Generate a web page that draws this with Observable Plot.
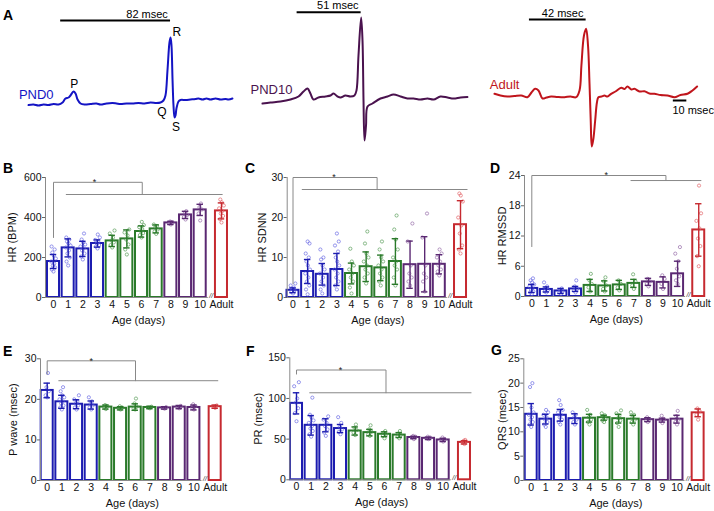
<!DOCTYPE html>
<html>
<head>
<meta charset="utf-8">
<script src="https://cdn.jsdelivr.net/npm/d3@7"></script>
<script src="https://cdn.jsdelivr.net/npm/@observablehq/plot@0.6"></script>
<style>
  html,body{margin:0;padding:0;background:#fff;}
  #fig{position:relative;width:714px;height:511px;overflow:hidden;background:#fff;font-family:"Liberation Sans",Arial,Helvetica,sans-serif;}
  .panel{position:absolute;}
  .panel svg{overflow:visible;}
  .tag{position:absolute;font-weight:bold;font-size:14px;line-height:14px;color:#000;font-family:"Liberation Sans",Arial,sans-serif;}
</style>
</head>
<body>
<div id="fig"></div>
<script>
// ================= DATA =================
const ageLabels = ["0","1","2","3","4","5","6","7","8","9","10","Adult"];
const ageGroup  = ["early","early","early","early","mid","mid","mid","mid","late","late","late","adult"];

// ECG traces (time in msec, amplitude in arbitrary units)
const pnd0Time  = [0,3.7,7.5,11.2,14.9,18.7,22.4,25.4,27.6,29.9,31.3,33.6,35.1,36.6,38.8,41.8,46.3,50.7,53.7,58.2,62.7,65.7,68.7,73.1,77.6,82.1,86.6,91,95.5,98.5,100.7,102.2,103.7,105.2,106,106.7,107.5,108.2,109,109.7,110.4,111.9,113.4,117.2,120.9,124.6,126.9,129.9,132.8,135.8,139.6,143.3,147,149.3,152.2];
const pnd0Volt  = [-0.5,0,-1,0,-0.5,0.5,0,2,6,7,9,13,11,5,1,0,0.5,1,0,1,1.5,1,0.5,1,1,1.5,1,2,1.5,2,4,9,34,62,67,59,24,-1,-13,-11,-4,3,4.5,4.5,5,5.5,6,5,6,5,6,5,5.5,5,6];
const pnd10Time = [0,6.4,14.3,22.3,28.7,32.7,35.9,38.2,40.6,44.6,50.2,54.2,56.6,59.8,62.2,66.1,70.1,73.3,74.9,76.5,78.6,79.7,80.5,81.3,82.5,83.7,87.6,94,99.6,104.4,110,115.5,120.3,125.9,131.5,136.3,141.8,147.4,152.2,157.8,163.3];
const pnd10Volt = [0,1,2,4,7,12,15,10,4,6,7,8,10,7,6,8,7,8,13,48,86,63,3,-37,-22,-3,0,5,7,9,7,5,5,4,5,4,7,6,5,6,6.5];
const adultTime = [0,4.4,9.6,14.8,19.8,24.4,27.4,30.1,32.6,35.6,38.5,42,46.7,51.9,56.3,60.5,63,64.4,66.3,67.9,69.3,70.4,71.3,72.1,73.3,74.6,75.9,77,79.3,81.5,83.7,86.4,89.6,93.9,96.3,98.5,101.5,103.7,107.4,111.1,114.8,118.5,123,128.1,133.3,137.8,143,146.7,150.1];
const adultVolt = [2.7,1,0,0.5,1,-0.7,4,7.7,6,-2,-1,0,-0.5,-0.7,0,-0.7,6,31,61,67.7,51,13,-24,-50,-42,-24,-6,-0.7,0,1,0,2.7,5,8.7,7.5,10,7,7.7,5,5.3,3,2.7,1.5,1,-0.7,1.5,2.7,6,10];
// P-R interval scale bars (msec) with their start times, plus the 10 msec bar
const prBars = [{label:"82 msec", start:24, len:82},{label:"51 msec", start:27.6, len:51},{label:"42 msec", start:25.9, len:42}];
const timeBar = {label:"10 msec", start:132.5, len:10};

// B: HR (BPM)
const hrMean = [180,248,243,270,283,293,330,343,373,413,438,433];
const hrSD   = [35,45,38,18,28,45,28,20,8,18,28,40];
const hrPts  = [
  [130,140,150,160,170,180,195,210,225,240,255],
  [160,180,200,220,235,250,260,270,280,290,300],
  [190,205,220,235,245,255,265,275,290,320],
  [245,255,262,270,278,288,300,315],
  [250,262,275,285,300,320,335],
  [215,240,265,290,310,325,340],
  [300,312,322,332,342,352,362,378],
  [318,330,340,350,358,365],
  [365,370,376,380],
  [390,402,412,422,432],
  [385,420,440,452,470],
  [375,392,408,420,432,446,460,476,490]
];
// C: HR SDNN
const sdnnMean = [1.8,6.5,5.8,7.0,6.0,7.7,7.4,9.0,8.2,8.3,8.3,18.2];
const sdnnSD   = [0.6,3.0,2.7,4.0,2.6,3.7,3.2,5.7,5.9,6.9,2.4,6.0];
const sdnnPts  = [
  [1.0,1.4,1.8,2.1,2.5,3.0,3.5],
  [0.8,2,3,4,5,6,7,8,9,10,11,13.5,14],
  [1,2,3,4,5,6,7,8,9.5,10,12],
  [2,3,4,5,6,7,8,9,10,11.5,13,14,16],
  [1,2.5,4,5,6,7,8,9,12.2],
  [3.5,5,6,7,8,9,10,11,13.5,16.5],
  [3,4,5,6,7,8,9,10,12,14],
  [3,5,7,8,9,10,12,14.5,17,20.5],
  [3,4,5,6,8,14,18.5],
  [1.5,4,5,6,8,15,21],
  [5.5,6.5,7,8,9,10,11,12],
  [11,12,13,16,18,20,24,25.5,26]
];
// D: HR RMSSD
const rmssdMean = [1.6,1.4,1.1,1.5,2.2,2.1,2.3,2.6,2.9,2.8,4.5,13.2];
const rmssdSD   = [0.8,0.5,0.5,0.5,1.2,1.0,0.9,0.8,0.7,1.1,2.5,5.2];
const rmssdPts  = [
  [0.5,0.8,1.0,1.3,1.6,2.0,2.4,2.8,3.2,3.6],
  [0.8,1.0,1.3,1.6,2.0,2.8],
  [0.5,0.8,1.0,1.3,1.6],
  [0.8,1.2,1.5,2.0,3.2],
  [1.0,1.8,2.5,3.2,4.5],
  [1.0,1.5,2.2,3.0,3.8],
  [1.2,1.8,2.5,3.2],
  [1.5,2.2,3.0,4.4],
  [2.0,2.5,3.0,3.5],
  [1.5,2.5,3.5,4.2],
  [2.5,3.2,4.0,5.5,7.0,8.5,9.8],
  [6.0,8.0,10.0,11.5,13.5,15.0,16.5,22.0]
];
// E: P wave (msec)
const pMean = [22.2,19.4,18.8,18.6,18.1,17.8,18.1,18.0,17.9,18.1,18.0,18.2];
const pSD   = [1.8,1.6,1.1,1.0,0.5,0.4,0.8,0.3,0.3,0.4,0.6,0.4];
const pPts  = [
  [20.5,21,22,23,26.5],
  [17.5,18,18.5,19,19.5,20,20.5,21,22,23],
  [17.5,18,18.5,19,19.5,20,21],
  [17.5,18,18.5,19,19.5,20.5],
  [17.6,18,18.3,18.6],
  [17.5,17.8,18.0,18.3],
  [17.5,17.8,18.2,19,20.2],
  [17.8,18.0,18.2],
  [17.7,17.9,18.1],
  [17.8,18.1,18.4],
  [17.5,17.9,18.3,18.8],
  [17.9,18.2,18.5]
];
// F: PR (msec)
const prMean = [94,67,67,63,60,58,56,55,52,51,49,46];
const prSD   = [13,12,8,5,5,4,3,3,1.5,1.5,2,2];
const prPts  = [
  [72,82,88,95,100,115,120],
  [53,56,60,63,66,70,73,77,80,101],
  [54,58,62,66,70,74,78],
  [56,59,62,65,70,77],
  [55,58,61,64,68],
  [54,56,59,62,67],
  [51,54,56,58,60],
  [51,53,55,57,60],
  [50,52,53,54],
  [50,51,52,53],
  [47,49,50,52],
  [44,46,47,48,49]
];
// G: QRS (msec)
const qrsMean = [13.6,12.6,13.4,12.7,12.8,12.9,12.7,12.6,12.5,12.4,12.6,13.9];
const qrsSD   = [2.2,1.0,1.2,1.0,0.8,0.5,0.9,0.8,0.4,0.4,0.8,0.8];
const qrsPts  = [
  [11,11.5,12,12.5,13,13.5,14,15,19.2,20],
  [11,11.5,12,12.5,13,13.5,14,14.5],
  [11.5,12,12.5,13,13.5,14,14.5,15.5,16.5],
  [11.5,12,12.5,13,13.5,14],
  [11.5,12,12.5,13,13.5,14.5],
  [12,12.3,12.6,13,13.4,13.8],
  [11,11.8,12.3,12.8,13.3,13.8,14.4],
  [11.5,12,12.5,13,13.5,14],
  [12,12.3,12.6,13],
  [11.8,12.2,12.6,13.3],
  [11.5,12,12.5,13.2,14.3],
  [12.5,13.5,14.2,14.8]
];

// ================= STYLE =================
const FONT = '"Liberation Sans", Arial, Helvetica, sans-serif';
const mainColor  = {early:"#1c1cb0", mid:"#2a7a2a", late:"#5a2872", adult:"#c62a30"};
const lightColor = {early:"rgba(95,95,225,0.8)", mid:"rgba(75,150,75,0.8)", late:"rgba(140,95,160,0.8)", adult:"rgba(225,95,100,0.85)"};
const jitter = [0,-0.11,0.11,-0.05,0.05,-0.16,0.16,0.02,-0.08,0.08,-0.13,0.13,0];
const posOf = i => (i < 11 ? i : 11.45);
const tickPos = ageLabels.map((_, i) => posOf(i));

const fig = document.getElementById("fig");
function place(node, left, top) {
  const d = document.createElement("div");
  d.className = "panel"; d.style.left = left + "px"; d.style.top = top + "px";
  d.appendChild(node); fig.appendChild(d);
}
function tag(t, left, capTop) {
  const d = document.createElement("div");
  d.className = "tag"; d.textContent = t;
  d.style.left = left + "px"; d.style.top = (capTop - 2) + "px";
  fig.appendChild(d);
}

// ================= ECG PANELS =================
function ecgPanel(o) {
  const data = o.T.map((t, i) => ({t, v: o.V[i]}));
  const marks = [
    Plot.line(data, {x: "t", y: "v", stroke: o.color, strokeWidth: 2, curve: "catmull-rom"}),
    Plot.ruleY([o.bar], {x1: d => d.start, x2: d => d.start + d.len, y: o.barY, stroke: "#000", strokeWidth: 2}),
    Plot.text([o.bar], {x: d => d.start + d.len - 2, y: o.barY + 6.5, text: "label", textAnchor: "end", fontSize: 11, fill: "#000"}),
    Plot.text([o.name], {x: o.nameT, y: o.nameV, text: d => d, textAnchor: "end", fontSize: 13, fill: o.color})
  ];
  if (o.extra) marks.push(...o.extra);
  const p = Plot.plot({
    width: 240, height: 160, marginLeft: 0, marginRight: 0, marginTop: 0, marginBottom: 10,
    x: {domain: o.xDomain, axis: null}, y: {domain: o.yDomain, axis: null},
    style: {background: "transparent", overflow: "visible", fontFamily: FONT},
    marks
  });
  place(p, o.left, 0);
}

ecgPanel({left: 0, T: pnd0Time, V: pnd0Volt, color: "#1414c4", xDomain: [-20.9, 158.2], yDomain: [-46, 104],
  bar: prBars[0], barY: 84, name: "PND0", nameT: 18.7, nameV: 10,
  extra: [Plot.text([{s:"P",t:34.1,v:20},{s:"R",t:110.6,v:72.5},{s:"Q",t:99.5,v:-8},{s:"S",t:110,v:-22.5}],
    {x: "t", y: "v", text: "s", fontSize: 12, fill: "#000"})]});
ecgPanel({left: 240, T: pnd10Time, V: pnd10Volt, color: "#4a124e", xDomain: [-17.5, 173.7], yDomain: [-47, 103],
  bar: prBars[1], barY: 91.3, name: "PND10", nameT: 23.9, nameV: 14});
ecgPanel({left: 474, T: adultTime, V: adultVolt, color: "#c0151c", xDomain: [-14.8, 163], yDomain: [-54, 96],
  bar: prBars[2], barY: 77, name: "Adult", nameT: 18.5, nameV: 12,
  extra: [
    Plot.ruleY([timeBar], {x1: d => d.start, x2: d => d.start + d.len, y: -4, stroke: "#000", strokeWidth: 2}),
    Plot.text([timeBar], {x: d => d.start - 0.7, y: -13.5, text: "label", textAnchor: "start", fontSize: 11, fill: "#000"})
  ]});

// ================= BAR PANELS =================
function barPanel(o) {
  const mR = 4;
  const mL = o.axisX - o.left, mT = o.yTop - o.top, mB = o.top + o.height - o.y0;
  const xa = (o.axisX - o.cat0X) / o.spacing;
  const xb = (o.left + o.width - mR - o.cat0X) / o.spacing;
  const rows = o.means.map((m, i) => ({pos: posOf(i), mean: m, sd: o.sds[i], c: mainColor[ageGroup[i]]}));
  const dots = o.pts.flatMap((arr, i) => arr.map((v, j) => ({x: posOf(i) + jitter[j % jitter.length], y: v, c: lightColor[ageGroup[i]]})));
  const marks = [
    Plot.rect(rows, {x1: d => d.pos - 0.41, x2: d => d.pos + 0.41, y1: 0, y2: "mean", fill: "white", stroke: "c", strokeWidth: 2}),
    Plot.dot(dots, {x: "x", y: "y", r: 1.6, stroke: "c", fill: "none", strokeWidth: 0.8}),
    Plot.ruleX(rows, {x: "pos", y1: d => d.mean - d.sd, y2: d => d.mean + d.sd, stroke: "c", strokeWidth: 1.4}),
    Plot.ruleY(rows, {y: d => d.mean + d.sd, x1: d => d.pos - 0.22, x2: d => d.pos + 0.22, stroke: "c", strokeWidth: 1.4}),
    Plot.ruleY(rows, {y: d => d.mean - d.sd, x1: d => d.pos - 0.22, x2: d => d.pos + 0.22, stroke: "c", strokeWidth: 1.4}),
    Plot.ruleX([xa], {y1: 0, y2: o.ymax, stroke: "#8a8a8a", strokeWidth: 1}),
    Plot.ruleY([0], {x1: xa, x2: 10.55, stroke: "#8a8a8a", strokeWidth: 1}),
    Plot.text(["//"], {x: 10.75, y: 0, text: d => d, fontSize: 7, fontStyle: "italic", dy: -2, fill: "#333"}),
    Plot.axisY({ticks: o.ticks, tickSize: 3, tickPadding: 1, fontSize: 10.5, label: null, stroke: "#666", fill: "#111"}),
    Plot.axisX({ticks: tickPos, tickFormat: d => ageLabels[tickPos.indexOf(d)], tickSize: 0, tickPadding: 3, fontSize: 10.5, label: null, fill: "#111"}),
    Plot.text([o.ylabel], {x: xa, y: o.ymax / 2, dx: -o.ylabelOff, rotate: -90, textAnchor: "middle", lineAnchor: "middle", text: d => d, fontSize: 11, fill: "#111"}),
    Plot.text(["Age (days)"], {x: 5.8, y: 0, dy: 23, text: d => d, fontSize: 11, fill: "#111"})
  ];
  if (o.bracket) {
    const b = o.bracket;
    marks.push(
      Plot.line([[0, b.v0], [0, b.top], [b.apex, b.top], [b.apex, b.low]], {x: d => d[0], y: d => d[1], stroke: "#888", strokeWidth: 1}),
      Plot.line([[b.from, b.low], [b.to, b.low]], {x: d => d[0], y: d => d[1], stroke: "#888", strokeWidth: 1}),
      Plot.text(["*"], {x: b.star, y: b.top, text: d => d, fontSize: 9, fill: "#222"})
    );
  }
  const p = Plot.plot({
    width: o.width, height: o.height, marginLeft: mL, marginRight: mR, marginTop: mT, marginBottom: mB,
    x: {domain: [xa, xb], axis: null}, y: {domain: [0, o.ymax], axis: null},
    color: {type: "identity"},
    style: {background: "transparent", overflow: "visible", fontFamily: FONT},
    marks
  });
  place(p, o.left, o.top);
}

barPanel({left: 0, top: 160, width: 240, height: 175, axisX: 45, cat0X: 53, spacing: 14.67, y0: 297, yTop: 177,
  ymax: 600, ticks: [0,200,400,600], ylabel: "HR (BPM)", ylabelOff: 33, means: hrMean, sds: hrSD, pts: hrPts,
  bracket: {v0: 300, top: 576, apex: 6.05, low: 515, from: 0.87, to: 11.5, star: 2.8}});
barPanel({left: 240, top: 160, width: 234, height: 175, axisX: 286.7, cat0X: 292.5, spacing: 14.63, y0: 297, yTop: 177,
  ymax: 30, ticks: [0,10,20,30], ylabel: "HR SDNN", ylabelOff: 25, means: sdnnMean, sds: sdnnSD, pts: sdnnPts,
  bracket: {v0: 3.4, top: 30, apex: 5.75, low: 27, from: 0.63, to: 11.9, star: 2.8}});
barPanel({left: 474, top: 160, width: 240, height: 175, axisX: 524, cat0X: 531.3, spacing: 14.58, y0: 296, yTop: 175,
  ymax: 24, ticks: [0,6,12,18,24], ylabel: "HR RMSSD", ylabelOff: 22, means: rmssdMean, sds: rmssdSD, pts: rmssdPts,
  bracket: {v0: 9.9, top: 24, apex: 9.2, low: 23, from: 6.8, to: 11.6, star: 5.1}});
barPanel({left: 0, top: 340, width: 240, height: 171, axisX: 40, cat0X: 46.7, spacing: 14.67, y0: 480, yTop: 358.3,
  ymax: 30, ticks: [0,10,20,30], ylabel: "P wave (msec)", ylabelOff: 27, means: pMean, sds: pSD, pts: pPts,
  bracket: {v0: 26.2, top: 29.5, apex: 6.02, low: 24.6, from: 0.79, to: 11.63, star: 3.0}});
barPanel({left: 240, top: 340, width: 234, height: 171, axisX: 289.3, cat0X: 296, spacing: 14.67, y0: 479.3, yTop: 357.3,
  ymax: 150, ticks: [0,50,100,150], ylabel: "PR (msec)", ylabelOff: 31, means: prMean, sds: prSD, pts: prPts,
  bracket: {v0: 130, top: 135, apex: 6.1, low: 107, from: 0.9, to: 11.9, star: 3.0}});
barPanel({left: 474, top: 340, width: 240, height: 171, axisX: 523.3, cat0X: 530.7, spacing: 14.58, y0: 480, yTop: 358.3,
  ymax: 25, ticks: [0,5,10,15,20,25], ylabel: "QRS (msec)", ylabelOff: 21, means: qrsMean, sds: qrsSD, pts: qrsPts});

// panel tags
tag("A", 3, 10); tag("B", 3, 163); tag("C", 245, 163); tag("D", 490, 163);
tag("E", 3, 346); tag("F", 246, 346); tag("G", 491, 345);
</script>
</body>
</html>
